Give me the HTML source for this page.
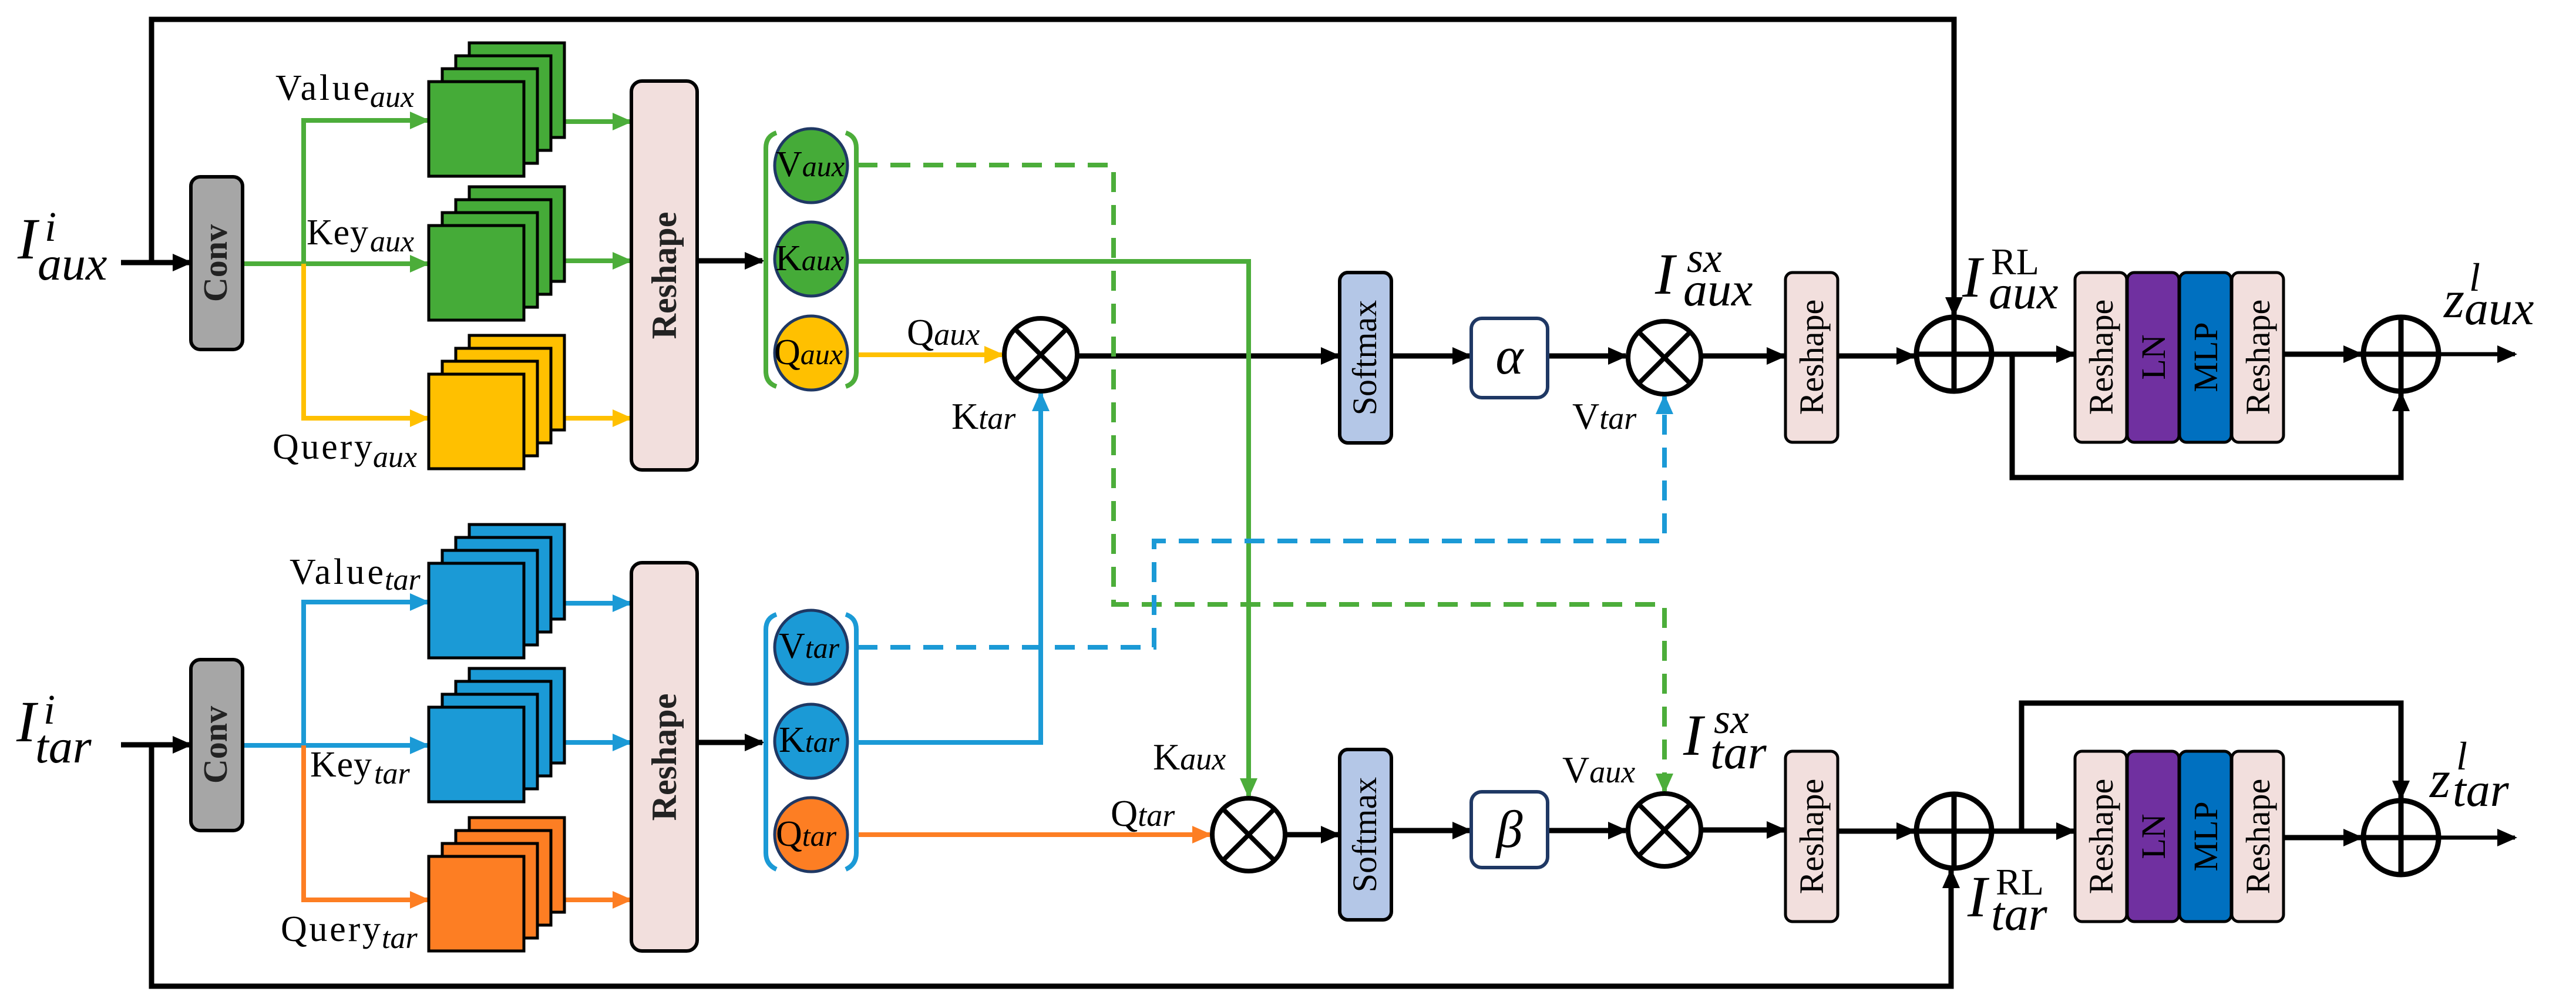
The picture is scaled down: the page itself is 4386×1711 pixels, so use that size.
<!DOCTYPE html>
<html><head><meta charset="utf-8"><style>
html,body{margin:0;padding:0;background:#fff;}
svg{display:block;}
text{font-family:"Liberation Serif",serif;}
.it{font-style:italic;}
</style></head><body>
<svg width="4386" height="1711" viewBox="0 0 4386 1711" xmlns="http://www.w3.org/2000/svg">
<defs>
<marker id="ak" markerUnits="userSpaceOnUse" markerWidth="34" markerHeight="30" refX="30" refY="15" orient="auto"><path d="M0,0 L34,15 L0,30 z" fill="#000"/></marker>
<marker id="ag" markerUnits="userSpaceOnUse" markerWidth="34" markerHeight="30" refX="30" refY="15" orient="auto"><path d="M0,0 L34,15 L0,30 z" fill="#4cad3a"/></marker>
<marker id="ay" markerUnits="userSpaceOnUse" markerWidth="34" markerHeight="30" refX="30" refY="15" orient="auto"><path d="M0,0 L34,15 L0,30 z" fill="#ffc000"/></marker>
<marker id="ab" markerUnits="userSpaceOnUse" markerWidth="34" markerHeight="30" refX="30" refY="15" orient="auto"><path d="M0,0 L34,15 L0,30 z" fill="#1b9ad6"/></marker>
<marker id="ao" markerUnits="userSpaceOnUse" markerWidth="34" markerHeight="30" refX="30" refY="15" orient="auto"><path d="M0,0 L34,15 L0,30 z" fill="#fd7e23"/></marker>
</defs>

<g fill="none" stroke-width="9" stroke="#000">
<path d="M206,447 L324,447" marker-end="url(#ak)"/>
<path d="M258,447 L258,33 L3327,33 L3327,536" marker-end="url(#ak)"/>
<path d="M206,1268 L324,1268" marker-end="url(#ak)"/>
<path d="M258,1268 L258,1679 L3322,1679 L3322,1482" marker-end="url(#ak)"/>
<path d="M1187,444 L1298,444" marker-end="url(#ak)"/>
<path d="M1187,1264 L1298,1264" marker-end="url(#ak)"/>
<path d="M1837,606 L2279,606" marker-end="url(#ak)"/>
<path d="M2370,606 L2503,606" marker-end="url(#ak)"/>
<path d="M2635,606 L2768,606" marker-end="url(#ak)"/>
<path d="M2898,606 L3038,606" marker-end="url(#ak)"/>
<path d="M3129,606 L3259,606" marker-end="url(#ak)"/>
<path d="M3393,603 L3531,603" marker-end="url(#ak)"/>
<path d="M3888,603 L4020,603" marker-end="url(#ak)"/>
<path d="M4154,603 L4282,603" stroke-width="7" marker-end="url(#ak)"/>
<path d="M3426,603 L3426,813 L4088,813 L4088,670" marker-end="url(#ak)"/>
<path d="M2190,1421 L2279,1421" marker-end="url(#ak)"/>
<path d="M2368,1414 L2503,1414" marker-end="url(#ak)"/>
<path d="M2635,1414 L2768,1414" marker-end="url(#ak)"/>
<path d="M2898,1413 L3038,1413" marker-end="url(#ak)"/>
<path d="M3129,1415 L3259,1415" marker-end="url(#ak)"/>
<path d="M3393,1415 L3531,1415" marker-end="url(#ak)"/>
<path d="M3888,1426 L4020,1426" marker-end="url(#ak)"/>
<path d="M4154,1426 L4282,1426" stroke-width="7" marker-end="url(#ak)"/>
<path d="M3442,1415 L3442,1197 L4088,1197 L4088,1359" marker-end="url(#ak)"/>
</g>

<g fill="none" stroke-width="8">
<path d="M413,449 L517,449" stroke="#4cad3a"/>
<path d="M517,449 L517,205 L728,205" stroke="#4cad3a" marker-end="url(#ag)"/>
<path d="M517,449 L728,449" stroke="#4cad3a" marker-end="url(#ag)"/>
<path d="M517,449 L517,712 L728,712" stroke="#ffc000" marker-end="url(#ay)"/>
<path d="M962,207 L1073,207" stroke="#4cad3a" marker-end="url(#ag)"/>
<path d="M962,444 L1073,444" stroke="#4cad3a" marker-end="url(#ag)"/>
<path d="M962,712 L1073,712" stroke="#ffc000" marker-end="url(#ay)"/>
<path d="M413,1269 L517,1269" stroke="#1b9ad6"/>
<path d="M517,1269 L517,1025 L728,1025" stroke="#1b9ad6" marker-end="url(#ab)"/>
<path d="M517,1269 L728,1269" stroke="#1b9ad6" marker-end="url(#ab)"/>
<path d="M517,1269 L517,1532 L728,1532" stroke="#fd7e23" marker-end="url(#ao)"/>
<path d="M962,1027 L1073,1027" stroke="#1b9ad6" marker-end="url(#ab)"/>
<path d="M962,1264 L1073,1264" stroke="#1b9ad6" marker-end="url(#ab)"/>
<path d="M962,1532 L1073,1532" stroke="#fd7e23" marker-end="url(#ao)"/>

<path d="M1460,281 L1896,281 L1896,1029 L2834,1029 L2834,1347" stroke="#4cad3a" stroke-dasharray="34,22" marker-end="url(#ag)"/>
<path d="M1460,445 L2126,445 L2126,1355" stroke="#4cad3a" marker-end="url(#ag)"/>
<path d="M1460,604 L1706,604" stroke="#ffc000" marker-end="url(#ay)"/>
<path d="M1460,1264 L1772,1264 L1772,670" stroke="#1b9ad6" marker-end="url(#ab)"/>
<path d="M1460,1102 L1965,1102 L1965,921 L2834,921 L2834,675" stroke="#1b9ad6" stroke-dasharray="34,22" marker-end="url(#ab)"/>
<path d="M1460,1421 L2060,1421" stroke="#fd7e23" marker-end="url(#ao)"/>
</g>

<g stroke="#000" stroke-width="6">
<rect x="325" y="301" width="88" height="294" rx="16" fill="#a6a6a6"/>
<rect x="325" y="1123" width="88" height="291" rx="16" fill="#a6a6a6"/>
<rect x="1075" y="138" width="112" height="662" rx="18" fill="#f2dfdd"/>
<rect x="1075" y="958" width="112" height="661" rx="18" fill="#f2dfdd"/>
</g>
<text transform="translate(386,448) rotate(-90)" text-anchor="middle" font-size="58" font-weight="bold" fill="#222">Conv</text>
<text transform="translate(386,1268) rotate(-90)" text-anchor="middle" font-size="58" font-weight="bold" fill="#222">Conv</text>
<text transform="translate(1151,469) rotate(-90)" text-anchor="middle" font-size="60" font-weight="bold" fill="#222">Reshape</text>
<text transform="translate(1151,1289) rotate(-90)" text-anchor="middle" font-size="60" font-weight="bold" fill="#222">Reshape</text>

<g stroke="#000" stroke-width="5">
<g fill="#45ab38">
<rect x="799" y="73" width="162" height="161"/><rect x="776" y="95" width="162" height="161"/><rect x="753" y="117" width="162" height="161"/><rect x="730" y="139" width="162" height="161"/>
<rect x="799" y="318" width="162" height="161"/><rect x="776" y="340" width="162" height="161"/><rect x="753" y="362" width="162" height="161"/><rect x="730" y="384" width="162" height="161"/>
</g>
<g fill="#ffc000">
<rect x="799" y="571" width="162" height="161"/><rect x="776" y="593" width="162" height="161"/><rect x="753" y="615" width="162" height="161"/><rect x="730" y="637" width="162" height="161"/>
</g>
<g fill="#1b9ad6">
<rect x="799" y="893" width="162" height="161"/><rect x="776" y="915" width="162" height="161"/><rect x="753" y="937" width="162" height="161"/><rect x="730" y="959" width="162" height="161"/>
<rect x="799" y="1138" width="162" height="161"/><rect x="776" y="1160" width="162" height="161"/><rect x="753" y="1182" width="162" height="161"/><rect x="730" y="1204" width="162" height="161"/>
</g>
<g fill="#fd7e23">
<rect x="799" y="1392" width="162" height="161"/><rect x="776" y="1414" width="162" height="161"/><rect x="753" y="1436" width="162" height="161"/><rect x="730" y="1458" width="162" height="161"/>
</g>
</g>

<g fill="none" stroke-width="8">
<path d="M1322,226 Q1304,232 1304,252 L1304,632 Q1304,652 1322,658" stroke="#4cad3a"/>
<path d="M1440,226 Q1458,232 1458,252 L1458,632 Q1458,652 1440,658" stroke="#4cad3a"/>
<path d="M1322,1046 Q1304,1052 1304,1072 L1304,1452 Q1304,1472 1322,1480" stroke="#1b9ad6"/>
<path d="M1440,1046 Q1458,1052 1458,1072 L1458,1452 Q1458,1472 1440,1480" stroke="#1b9ad6"/>
</g>
<g stroke="#1f3864" stroke-width="5">
<ellipse cx="1381" cy="282" rx="62" ry="63" fill="#45ab38"/>
<ellipse cx="1381" cy="441" rx="62" ry="63" fill="#45ab38"/>
<ellipse cx="1381" cy="601" rx="62" ry="63" fill="#ffc000"/>
<ellipse cx="1381" cy="1102" rx="62" ry="63" fill="#1b9ad6"/>
<ellipse cx="1381" cy="1262" rx="62" ry="63" fill="#1b9ad6"/>
<ellipse cx="1381" cy="1421" rx="62" ry="63" fill="#fd7e23"/>
</g>
<g font-size="62" fill="#000">
<text x="1321" y="300">V<tspan class="it" font-size="50">aux</tspan></text>
<text x="1320" y="460">K<tspan class="it" font-size="50">aux</tspan></text>
<text x="1318" y="620">Q<tspan class="it" font-size="50">aux</tspan></text>
<text x="1326" y="1120">V<tspan class="it" font-size="50">tar</tspan></text>
<text x="1326" y="1280">K<tspan class="it" font-size="50">tar</tspan></text>
<text x="1321" y="1440">Q<tspan class="it" font-size="50">tar</tspan></text>
</g>

<g font-size="62" fill="#000">
<text x="469" y="170" textLength="160">Value</text><text x="630" y="182" class="it" font-size="52">aux</text>
<text x="522" y="416" textLength="105">Key</text><text x="630" y="428" class="it" font-size="52">aux</text>
<text x="464" y="781" textLength="170">Query</text><text x="635" y="795" class="it" font-size="52">aux</text>
<text x="493" y="994" textLength="160">Value</text><text x="655" y="1004" class="it" font-size="52">tar</text>
<text x="528" y="1322" textLength="105">Key</text><text x="637" y="1334" class="it" font-size="52">tar</text>
<text x="478" y="1602" textLength="170">Query</text><text x="650" y="1614" class="it" font-size="52">tar</text>
</g>
<g fill="#000">
<text x="30" y="440" font-size="100" class="it">I</text>
<text x="76" y="410" font-size="72" class="it">i</text>
<text x="64" y="476" font-size="82" class="it">aux</text>
<text x="28" y="1262" font-size="100" class="it">I</text>
<text x="74" y="1232" font-size="72" class="it">i</text>
<text x="60" y="1298" font-size="82" class="it">tar</text>
</g>

<g fill="#fff" stroke="#000" stroke-width="8">
<circle cx="1772" cy="604" r="62"/>
<circle cx="2834" cy="609" r="62"/>
<circle cx="2126" cy="1421" r="62"/>
<circle cx="2834" cy="1413" r="62"/>
</g>
<g stroke="#000" stroke-width="8">
<path d="M1728,560 L1816,648 M1816,560 L1728,648"/>
<path d="M2790,565 L2878,653 M2878,565 L2790,653"/>
<path d="M2082,1377 L2170,1465 M2170,1377 L2082,1465"/>
<path d="M2790,1369 L2878,1457 M2878,1369 L2790,1457"/>
</g>
<g fill="#fff" stroke="#000" stroke-width="9">
<ellipse cx="3327" cy="603" rx="64" ry="63"/>
<ellipse cx="4088" cy="603" rx="64" ry="63"/>
<ellipse cx="3327" cy="1415" rx="64" ry="63"/>
<ellipse cx="4088" cy="1426" rx="64" ry="63"/>
<path d="M3263,603 L3391,603 M3327,540 L3327,666" fill="none"/>
<path d="M4024,603 L4152,603 M4088,540 L4088,666" fill="none"/>
<path d="M3263,1415 L3391,1415 M3327,1352 L3327,1478" fill="none"/>
<path d="M4024,1426 L4152,1426 M4088,1363 L4088,1489" fill="none"/>
</g>

<g stroke="#000" stroke-width="6">
<rect x="2281" y="464" width="88" height="290" rx="14" fill="#b4c7e7"/>
<rect x="2281" y="1276" width="88" height="290" rx="14" fill="#b4c7e7"/>
</g>
<text transform="translate(2343,609) rotate(-90)" text-anchor="middle" font-size="58" fill="#000">Softmax</text>
<text transform="translate(2343,1421) rotate(-90)" text-anchor="middle" font-size="58" fill="#000">Softmax</text>
<g stroke="#1f3864" stroke-width="6" fill="#fff">
<rect x="2505" y="542" width="130" height="135" rx="18"/>
<rect x="2505" y="1348" width="130" height="129" rx="18"/>
</g>
<text x="2570" y="636" text-anchor="middle" font-size="90" class="it">α</text>
<text x="2570" y="1442" text-anchor="middle" font-size="90" class="it">β</text>

<g fill="#000" font-size="64">
<text x="1544" y="587">Q<tspan class="it" font-size="54">aux</tspan></text>
<text x="1620" y="730">K<tspan class="it" font-size="54">tar</tspan></text>
<text x="2677" y="730">V<tspan class="it" font-size="54">tar</tspan></text>
<text x="1963" y="1310">K<tspan class="it" font-size="54">aux</tspan></text>
<text x="1891" y="1406">Q<tspan class="it" font-size="54">tar</tspan></text>
<text x="2660" y="1332">V<tspan class="it" font-size="54">aux</tspan></text>
</g>
<g fill="#000">
<text x="2818" y="500" font-size="100" class="it">I</text>
<text x="2872" y="463" font-size="72" class="it">sx</text>
<text x="2866" y="520" font-size="82" class="it">aux</text>
<text x="2866" y="1285" font-size="100" class="it">I</text>
<text x="2918" y="1248" font-size="72" class="it">sx</text>
<text x="2912" y="1308" font-size="82" class="it">tar</text>
<text x="3341" y="505" font-size="100" class="it">I</text>
<text x="3386" y="525" font-size="82" class="it">aux</text>
<text x="3350" y="1560" font-size="100" class="it">I</text>
<text x="3390" y="1583" font-size="82" class="it">tar</text>
<text x="4161" y="540" font-size="90" class="it">z</text>
<text x="4204" y="495" font-size="68" class="it">l</text>
<text x="4196" y="552" font-size="82" class="it">aux</text>
<text x="4137" y="1357" font-size="90" class="it">z</text>
<text x="4182" y="1310" font-size="68" class="it">l</text>
<text x="4176" y="1372" font-size="82" class="it">tar</text>
</g>
<text x="3390" y="467" font-size="64" fill="#000">RL</text>
<text x="3398" y="1523" font-size="64" fill="#000">RL</text>

<g stroke="#000" stroke-width="5">
<rect x="3040" y="464" width="89" height="289" rx="12" fill="#f2dfdd"/>
<rect x="3040" y="1279" width="89" height="290" rx="12" fill="#f2dfdd"/>
<rect x="3533" y="464" width="88" height="289" rx="12" fill="#f2dfdd"/>
<rect x="3622" y="464" width="88" height="289" rx="12" fill="#7030a0"/>
<rect x="3711" y="464" width="88" height="289" rx="12" fill="#0070c0"/>
<rect x="3800" y="464" width="88" height="289" rx="12" fill="#f2dfdd"/>
<rect x="3533" y="1279" width="88" height="290" rx="12" fill="#f2dfdd"/>
<rect x="3622" y="1279" width="88" height="290" rx="12" fill="#7030a0"/>
<rect x="3711" y="1279" width="88" height="290" rx="12" fill="#0070c0"/>
<rect x="3800" y="1279" width="88" height="290" rx="12" fill="#f2dfdd"/>
</g>
<g font-size="58" fill="#000" text-anchor="middle">
<text transform="translate(3104,608) rotate(-90)">Reshape</text>
<text transform="translate(3104,1424) rotate(-90)">Reshape</text>
<text transform="translate(3597,608) rotate(-90)">Reshape</text>
<text transform="translate(3686,608) rotate(-90)">LN</text>
<text transform="translate(3775,608) rotate(-90)">MLP</text>
<text transform="translate(3864,608) rotate(-90)">Reshape</text>
<text transform="translate(3597,1424) rotate(-90)">Reshape</text>
<text transform="translate(3686,1424) rotate(-90)">LN</text>
<text transform="translate(3775,1424) rotate(-90)">MLP</text>
<text transform="translate(3864,1424) rotate(-90)">Reshape</text>
</g>
</svg>
</body></html>
